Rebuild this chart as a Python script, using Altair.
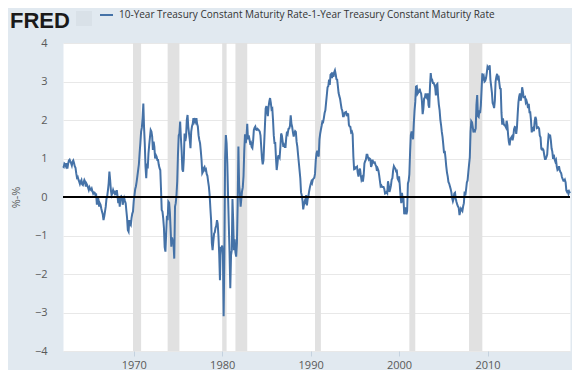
import altair as alt
import pandas as pd

# Monthly spread values (10Y - 1Y, percentage points), Jan 1962 .. May 2019
spread_1960s = [
    0.80, 0.78, 0.87, 0.85, 0.80, 0.88, 0.74, 0.86, 0.95, 0.97, 0.92, 0.88,
    0.82, 0.92, 0.95, 0.88, 0.80, 0.76, 0.62, 0.50, 0.52, 0.45, 0.40, 0.34,
    0.40, 0.44, 0.33, 0.31, 0.38, 0.44, 0.40, 0.27, 0.34, 0.30, 0.24, 0.18,
    0.25, 0.20, 0.18, 0.22, 0.15, 0.09, 0.12, 0.11, 0.05, 0.06, -0.20, -0.03,
    -0.05, -0.25, -0.16, -0.20, -0.30, -0.38, -0.45, -0.60, -0.50, -0.38, -0.25, -0.05,
    0.02, 0.18, 0.35, 0.66, 0.45, 0.18, 0.05, 0.10, 0.18, 0.12, 0.09, 0.16,
    0.05, 0.18, 0.02, -0.16, 0.00, -0.25, 0.00, 0.02, -0.03, -0.20, -0.10, -0.03,
    -0.10, -0.16, -0.35, -0.55, -0.86, -0.90, -0.60, -0.70, -0.73, -0.55, -0.43, -0.38,
]
spread_1970s = [
    -0.10, 0.05, 0.20, 0.28, 0.40, 0.55, 0.70, 0.85, 1.15, 1.40, 1.70, 1.80,
    2.05, 2.43, 1.83, 1.39, 0.80, 0.49, 0.87, 0.74, 1.13, 1.35, 1.55, 1.74,
    1.70, 1.57, 1.22, 1.44, 1.30, 1.00, 1.09, 1.05, 0.96, 0.96, 0.83, 0.75,
    0.70, 0.18, -0.34, -0.38, -0.55, -0.80, -1.30, -1.42, -0.95, -0.49, -0.60, -0.12,
    -0.15, -0.40, -0.80, -1.29, -1.05, -1.15, -1.20, -1.60, -0.25, -0.16, 0.05, 0.40,
    1.10, 1.60, 1.65, 1.96, 1.55, 1.20, 0.72, 0.66, 1.00, 1.65, 1.45, 1.57,
    2.00, 2.13, 1.83, 1.65, 1.50, 1.27, 1.70, 1.83, 1.90, 2.05, 1.95, 2.00,
    1.95, 2.05, 1.90, 1.83, 1.60, 1.48, 1.40, 1.20, 0.96, 0.62, 0.66, 0.75,
    0.78, 0.70, 0.72, 0.60, 0.55, 0.40, 0.27, 0.05, -0.30, -0.60, -1.20, -1.38,
    -1.15, -0.95, -0.92, -0.80, -0.75, -0.60, -0.70, -1.03, -1.50, -2.16, -1.29, -1.40,
]
spread_1980s = [
    -1.26, -1.51, -3.10, -1.50, 1.00, 1.61, 1.40, 0.86, 0.00, -0.74, -1.47, -2.37,
    -1.51, -1.38, -0.05, -0.64, -1.38, -1.10, -1.44, -1.55, -1.20, -0.23, 1.31, 0.30,
    0.10, -0.25, -0.05, 0.15, 0.25, 0.55, 1.20, 1.63, 1.40, 1.55, 1.90, 1.50,
    1.60, 1.50, 1.40, 1.42, 1.30, 1.27, 1.45, 1.74, 1.80, 1.83, 1.75, 1.74,
    1.77, 1.75, 1.73, 1.70, 1.60, 1.30, 1.00, 0.85, 0.95, 1.40, 1.85, 2.30,
    2.36, 2.22, 2.10, 2.35, 2.48, 2.57, 2.45, 2.28, 2.30, 2.00, 1.60, 1.40,
    1.40, 1.00, 0.70, 0.86, 1.06, 1.07, 1.03, 1.30, 1.65, 1.60, 1.45, 1.30,
    1.35, 1.30, 1.30, 1.55, 1.70, 1.65, 1.77, 1.78, 1.85, 2.12, 1.90, 1.82,
    1.68, 1.57, 1.66, 1.71, 1.69, 1.43, 1.31, 1.09, 0.89, 0.69, 0.48, 0.12,
    0.04, -0.10, -0.32, -0.20, -0.12, -0.18, 0.05, -0.22, -0.05, 0.02, 0.15, 0.25,
]
spread_1990s = [
    0.33, 0.40, 0.36, 0.45, 0.48, 0.50, 0.60, 0.95, 1.13, 1.20, 1.10, 1.05,
    1.50, 1.65, 1.75, 1.85, 1.96, 1.95, 2.05, 2.18, 2.25, 2.45, 2.65, 2.85,
    2.88, 3.05, 2.91, 3.18, 3.20, 3.09, 3.24, 3.12, 3.24, 3.29, 3.19, 3.06,
    3.05, 2.87, 2.70, 2.62, 2.55, 2.42, 2.30, 2.24, 2.10, 2.10, 2.18, 2.20,
    2.21, 2.10, 2.16, 2.15, 1.87, 1.83, 1.82, 1.68, 1.70, 1.63, 1.05, 0.72,
    0.73, 0.77, 0.77, 0.79, 0.63, 0.53, 0.69, 0.74, 0.58, 0.45, 0.50, 0.40,
    0.56, 0.87, 0.93, 0.97, 1.10, 1.10, 1.02, 0.97, 1.00, 0.98, 0.78, 0.83,
    0.97, 0.89, 0.89, 0.90, 0.84, 0.80, 0.68, 0.74, 0.69, 0.57, 0.42, 0.28,
    0.30, 0.26, 0.26, 0.26, 0.21, 0.09, 0.10, 0.13, 0.10, 0.41, 0.30, 0.13,
    0.21, 0.30, 0.45, 0.49, 0.69, 0.80, 0.76, 0.74, 0.67, 0.68, 0.48, 0.44,
]
spread_2000s = [
    0.54, 0.30, 0.04, -0.16, 0.11, -0.07, -0.03, -0.45, -0.33, -0.27, -0.45, -0.36,
    0.35, 0.42, 0.59, 1.16, 1.61, 1.70, 1.62, 1.50, 1.91, 2.24, 2.47, 2.87,
    2.88, 2.68, 2.71, 2.73, 2.81, 2.73, 2.69, 2.50, 2.15, 2.29, 2.56, 2.58,
    2.69, 2.60, 2.57, 2.69, 2.39, 2.32, 2.86, 3.22, 3.03, 3.04, 2.96, 2.96,
    2.91, 2.84, 2.64, 2.92, 2.94, 2.61, 2.40, 2.26, 2.01, 1.87, 1.69, 1.56,
    1.36, 1.14, 1.20, 1.02, 0.81, 0.64, 0.54, 0.39, 0.35, 0.28, 0.21, 0.12,
    -0.03, -0.11, -0.05, 0.09, 0.11, -0.05, -0.13, -0.20, -0.25, -0.28, -0.47, -0.38,
    -0.30, -0.33, -0.36, -0.24, -0.16, 0.14, 0.04, 0.20, 0.38, 0.43, 0.65, 0.84,
    1.03, 1.69, 1.97, 1.94, 1.82, 1.68, 1.73, 1.71, 1.78, 2.39, 2.65, 2.10,
    2.08, 2.25, 2.18, 2.38, 2.79, 3.21, 3.08, 3.13, 3.00, 3.02, 3.09, 3.22,
]
spread_2010s = [
    3.38, 3.34, 3.33, 3.42, 3.05, 2.88, 2.72, 2.44, 2.39, 2.31, 2.51, 3.00,
    3.12, 3.20, 3.10, 3.15, 2.98, 2.82, 2.81, 2.19, 1.88, 2.04, 1.90, 1.86,
    1.85, 1.81, 1.98, 1.87, 1.61, 1.43, 1.34, 1.50, 1.54, 1.57, 1.47, 1.56,
    1.76, 1.82, 1.81, 1.64, 1.81, 2.16, 2.46, 2.61, 2.69, 2.50, 2.60, 2.85,
    2.74, 2.59, 2.59, 2.60, 2.46, 2.50, 2.43, 2.31, 2.42, 2.20, 2.20, 2.00,
    1.68, 1.76, 1.79, 1.71, 1.96, 2.08, 2.02, 1.79, 1.80, 1.81, 1.78, 1.59,
    1.55, 1.25, 1.23, 1.25, 1.22, 1.09, 0.99, 0.99, 1.04, 1.10, 1.40, 1.62,
    1.60, 1.60, 1.47, 1.26, 1.18, 0.99, 1.10, 0.98, 0.92, 0.96, 0.79, 0.70,
    0.72, 0.80, 0.70, 0.65, 0.62, 0.52, 0.47, 0.42, 0.42, 0.45, 0.38, 0.17,
    0.13, 0.15, 0.08, 0.14, 0.10,
]

recession_start = ["1969-12-01", "1973-11-01", "1980-01-01", "1981-07-01",
                   "1990-07-01", "2001-03-01", "2007-12-01"]
recession_end = ["1970-11-01", "1975-03-01", "1980-07-01", "1982-11-01",
                 "1991-03-01", "2001-11-01", "2009-06-01"]

y_ticks = [-4, -3, -2, -1, 0, 1, 2, 3, 4]
x_tick_years = [1970, 1980, 1990, 2000, 2010]
series_name = "10-Year Treasury Constant Maturity Rate-1-Year Treasury Constant Maturity Rate"

values = spread_1960s + spread_1970s + spread_1980s + spread_1990s + spread_2000s + spread_2010s
df = pd.DataFrame({
    "date": pd.date_range("1962-01-01", periods=len(values), freq="MS"),
    "value": values,
})
rec = pd.DataFrame({"start": pd.to_datetime(recession_start),
                    "end": pd.to_datetime(recession_end)})

FONT = "Open Sans"
LABEL = "#595959"
BLUE = "#4572a7"

x_scale = alt.Scale(
    domain=[alt.DateTime(year=1962, month=1, date=1), alt.DateTime(year=2019, month=5, date=1)],
    nice=False,
)
y_scale = alt.Scale(domain=[-4, 4], nice=False)

x_axis = alt.Axis(title=None, values=[alt.DateTime(year=y, month=1, date=1) for y in x_tick_years],
                  format="%Y", grid=False, domain=False, ticks=True, tickSize=5,
                  tickColor="#c5d2df", labelPadding=3, labelFontSize=11,
                  labelColor=LABEL, labelFont=FONT)
y_axis = alt.Axis(title="%-%", values=y_ticks, grid=True, gridColor="#e8e8e8",
                  domain=False, ticks=False, labelPadding=16, labelFontSize=11,
                  labelColor=LABEL, labelFont=FONT, titleFont=FONT, titleFontSize=11,
                  titleFontWeight="normal", titleColor=LABEL, titleAngle=270,
                  titleX=-47, titleY=154, titleBaseline="middle")

bands = alt.Chart(rec).mark_rect(color="#e1e1e1").encode(
    x=alt.X("start:T", scale=x_scale, axis=x_axis),
    x2="end:T",
)

line = alt.Chart(df).mark_line(color=BLUE, strokeWidth=2).encode(
    x=alt.X("date:T", scale=x_scale, axis=x_axis),
    y=alt.Y("value:Q", scale=y_scale, axis=y_axis),
)

zero = alt.Chart(pd.DataFrame({"v": [0]})).mark_rule(color="#000000", strokeWidth=2).encode(
    y=alt.Y("v:Q", scale=y_scale, axis=y_axis)
)

one = alt.Data(values=[{}])
fred = alt.Chart(one).mark_text(
    text="FRED", font="Liberation Sans", fontSize=22, fontWeight="bold",
    color="#1a1a1a", align="left", baseline="alphabetic"
).encode(x=alt.value(-53), y=alt.value(-15))

icon = alt.Chart(one).mark_rect(fill="#d9e1e8").encode(
    x=alt.value(13), x2=alt.value(29), y=alt.value(-32), y2=alt.value(-17)
)

legend_line = alt.Chart(one).mark_rule(color=BLUE, strokeWidth=2).encode(
    x=alt.value(37), x2=alt.value(50), y=alt.value(-28)
)
legend_text = alt.Chart(one).mark_text(
    text=series_name, font=FONT, fontSize=10, color="#333333",
    align="left", baseline="middle"
).encode(x=alt.value(56), y=alt.value(-28))

chart = alt.layer(bands, line, zero, fred, icon, legend_line, legend_text).properties(
    width=507, height=308,
    padding={"left": 55, "top": 35, "right": 2, "bottom": 19},
    autosize=alt.AutoSizeParams(type="none"),
    background="#e1e9f0",
).configure_view(fill="white", stroke="transparent")

chart.save("out.html", embed_options={"renderer": "svg", "actions": False})
